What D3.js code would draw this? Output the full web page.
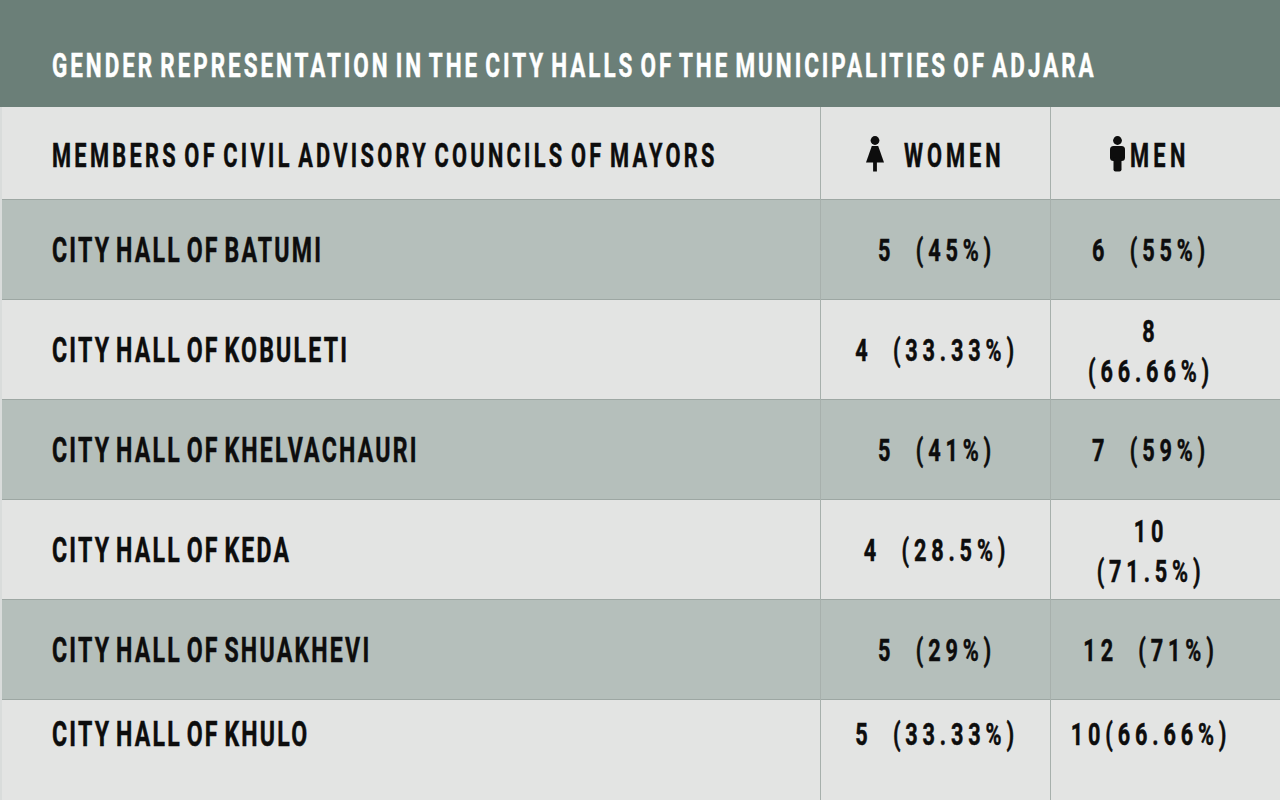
<!DOCTYPE html>
<html>
<head>
<meta charset="utf-8">
<script src="https://cdn.jsdelivr.net/npm/d3@7"></script>
<style>
  body { margin: 0; background: #e3e4e3; }
  svg { display: block; }
  text { font-family: Roboto, "DejaVu Sans", sans-serif; font-weight: 700; white-space: pre; }
</style>
</head>
<body>
<div id="chart"></div>
<script>
// data
var chartTitle = "GENDER REPRESENTATION IN THE CITY HALLS OF THE MUNICIPALITIES OF ADJARA";
var headerLabel = "MEMBERS OF CIVIL ADVISORY COUNCILS OF MAYORS";
var municipalities = ["CITY HALL OF BATUMI", "CITY HALL OF KOBULETI", "CITY HALL OF KHELVACHAURI",
    "CITY HALL OF KEDA", "CITY HALL OF SHUAKHEVI", "CITY HALL OF KHULO"];
var womenCount = [5, 4, 5, 4, 5, 5];
var womenPct = ["45%", "33.33%", "41%", "28.5%", "29%", "33.33%"];
var menCount = [6, 8, 7, 10, 12, 10];
var menPct = ["55%", "66.66%", "59%", "71.5%", "71%", "66.66%"];
var menWrapped = [false, true, false, true, false, false];

// sizes
var width = 1280, height = 800;
var titleHeight = 107, headerHeight = 92, rowHeight = 100;
var leftPad = 52;
var darkGreen = "#6b7f78", lightRow = "#e3e4e3", darkRow = "#b5bfbb", ink = "#0d0d0d";

var svg = d3.select("#chart").append("svg")
    .attr("width", width)
    .attr("height", height);

// scales
var col = d3.scaleOrdinal()
    .domain(["label", "women", "men"])
    .range([0, 820, 1050]);
var colCenter = d3.scaleOrdinal()
    .domain(["women", "men"])
    .range([937, 1151]);
var top0 = titleHeight + headerHeight;
var y = d3.scaleBand()
    .domain(municipalities)
    .range([top0, top0 + municipalities.length * rowHeight]);

// condensed text helper
function ctext(g, x, yy, str, o) {
    var sx = o.squeeze || 0.66;
    return g.append("text")
        .attr("transform", "translate(" + x + "," + yy + ") scale(" + sx + ",1)")
        .attr("font-size", o.size)
        .attr("letter-spacing", o.spacing)
        .attr("word-spacing", o.words || 0)
        .attr("text-anchor", o.anchor || "start")
        .attr("fill", o.fill || ink)
        .attr("stroke", o.fill || ink)
        .attr("stroke-width", 0.5)
        .text(str);
}
var titleStyle = {size: 34, spacing: 4.5, words: -5, fill: "#ffffff"};
var headStyle = {size: 33, spacing: 5, words: -5};
var labelStyle = {size: 35, spacing: 3.4, words: -5};
var numStyle = {size: 31, spacing: 6.9, squeeze: 0.7, anchor: "middle"};

// backgrounds
svg.append("rect").attr("width", width).attr("height", height).attr("fill", lightRow);
svg.append("rect").attr("width", width).attr("height", titleHeight).attr("fill", darkGreen);
svg.selectAll("rect.row")
    .data(municipalities).enter()
    .append("rect")
    .attr("class", "row")
    .attr("x", 0)
    .attr("y", (d) => y(d))
    .attr("width", width)
    .attr("height", (d, i) => i == municipalities.length - 1 ? height - y(d) : y.bandwidth())
    .attr("fill", (d, i) => i % 2 == 0 ? darkRow : lightRow);

// row lines
svg.selectAll("line.rowline")
    .data(municipalities).enter()
    .append("line")
    .attr("x1", 0).attr("x2", width)
    .attr("y1", (d) => y(d) + 0.5).attr("y2", (d) => y(d) + 0.5)
    .attr("stroke", "#9da7a3");
// column lines
svg.selectAll("line.colline")
    .data(["women", "men"]).enter()
    .append("line")
    .attr("x1", (d) => col(d) + 0.5).attr("x2", (d) => col(d) + 0.5)
    .attr("y1", titleHeight).attr("y2", height)
    .attr("stroke", "#a7b0ac");
// light left border
svg.append("line")
    .attr("x1", 1).attr("x2", 1).attr("y1", titleHeight).attr("y2", height)
    .attr("stroke", "#d9dcdb").attr("stroke-width", 2);

// title
ctext(svg, leftPad, 77, chartTitle, titleStyle);

// header
var hy = titleHeight + headerHeight / 2;
ctext(svg, leftPad, hy + 14, headerLabel, headStyle);
ctext(svg, 904, hy + 14, "WOMEN", {size: 33, spacing: 6});
ctext(svg, 1130, hy + 14, "MEN", {size: 33, spacing: 6.5});

// icons
var woman = svg.append("g").attr("transform", "translate(875," + (hy - 18) + ")").attr("fill", ink);
woman.append("circle").attr("cx", 0).attr("cy", 5.5).attr("r", 4.4);
woman.append("path").attr("d", "M-3.2,11 L3.2,11 L9,27.5 L-9,27.5 Z");
woman.append("rect").attr("x", -1.9).attr("y", 26).attr("width", 3.8).attr("height", 10.5);
var man = svg.append("g").attr("transform", "translate(1117.5," + (hy - 18) + ")").attr("fill", ink);
man.append("circle").attr("cx", 0).attr("cy", 5.5).attr("r", 4.4);
man.append("rect").attr("x", -7.5).attr("y", 11).attr("width", 15).attr("height", 15).attr("rx", 3.5);
man.append("rect").attr("x", -4).attr("y", 22).attr("width", 8).attr("height", 14.5).attr("rx", 2);

// rows
function textMid(d, i) {
    // last row text sits higher in its band
    return i == municipalities.length - 1 ? y(d) + 34 : y(d) + y.bandwidth() / 2;
}
var rows = svg.selectAll("g.rowtext")
    .data(municipalities).enter()
    .append("g")
    .attr("class", "rowtext");
rows.each(function(d, i) {
    var g = d3.select(this);
    var cy = textMid(d, i);
    ctext(g, leftPad, cy + 13, d, labelStyle);
    ctext(g, colCenter("women"), cy + 12, womenCount[i] + "  (" + womenPct[i] + ")", numStyle);
    if (menWrapped[i]) {
        ctext(g, colCenter("men"), cy - 7, String(menCount[i]), numStyle);
        ctext(g, colCenter("men"), cy + 33, "(" + menPct[i] + ")", numStyle);
    } else {
        var sep = i == municipalities.length - 1 ? "" : "  ";
        ctext(g, colCenter("men"), cy + 12, menCount[i] + sep + "(" + menPct[i] + ")", numStyle);
    }
});
</script>
</body>
</html>
